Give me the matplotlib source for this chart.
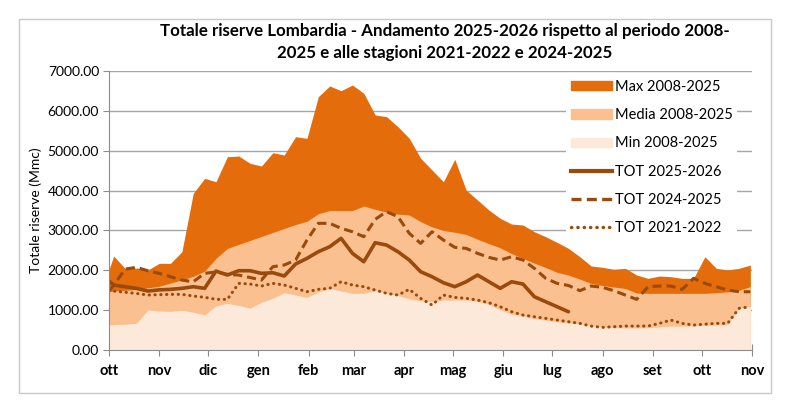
import numpy as np
import pandas as pd
import matplotlib
matplotlib.use('Agg')
import matplotlib.pyplot as plt
from matplotlib.patches import Patch, Rectangle
from matplotlib.lines import Line2D

plt.rcParams['font.family'] = ['Lato', 'DejaVu Sans']

# weekly dates (first point on 1 Oct, then weekly)
dates = [pd.Timestamp('2025-10-01')] + list(pd.date_range('2025-10-04', periods=57, freq='7D'))

max_0825 = [2007, 2358, 2050, 2057, 2007, 2175, 2175, 2467, 3930, 4307,
            4223, 4850, 4867, 4684, 4617, 4950, 4893, 5352, 5311, 6356,
            6624, 6506, 6649, 6440, 5896, 5854, 5603, 5311, 4810, 4516,
            4223, 4784, 4014, 3764, 3513, 3304, 3161, 3136, 2968, 2843,
            2700, 2551, 2341, 2108, 2075, 2025, 2050, 1882, 1799, 1857,
            1840, 1799, 1799, 2341, 2050, 2007, 2050, 2133]

media_0825 = [1463, 1480, 1500, 1520, 1560, 1600, 1680, 1760, 1850, 1980,
              2300, 2550, 2650, 2750, 2850, 2950, 3050, 3150, 3230, 3420,
              3500, 3500, 3500, 3613, 3530, 3460, 3410, 3387, 3220, 3090,
              3000, 2955, 2900, 2780, 2670, 2565, 2420, 2300, 2180, 2070,
              1950, 1880, 1780, 1670, 1620, 1580, 1545, 1430, 1423, 1423,
              1423, 1423, 1423, 1423, 1440, 1460, 1500, 1590]

min_0825 = [627, 640, 650, 669, 1004, 980, 970, 1000, 950, 880,
            1110, 1170, 1120, 1050, 1200, 1300, 1440, 1380, 1320, 1460,
            1548, 1480, 1423, 1423, 1490, 1420, 1370, 1280, 1240, 1212,
            1255, 1255, 1255, 1220, 1150, 1010, 900, 850, 790, 750,
            710, 680, 660, 620, 580, 560, 555, 555, 560, 580,
            600, 600, 610, 620, 630, 640, 1050, 1090]

tot_2526 = [1740, 1631, 1589, 1548, 1480, 1510, 1523, 1548, 1589, 1548,
            1982, 1882, 1990, 1990, 1924, 1940, 1857, 2158, 2300, 2467,
            2592, 2802, 2426, 2216, 2693, 2634, 2467, 2258, 1965, 1840,
            1689, 1589, 1714, 1882, 1714, 1548, 1714, 1656, 1338, 1212,
            1087, 962] + [np.nan] * 16

tot_2425 = [1480, 1620, 2030, 2075, 1990, 1924, 1840, 1756, 1714, 1924,
            1960, 1900, 1880, 1820, 1756, 2091, 2133, 2258, 2760, 3179,
            3179, 3054, 2968, 2843, 3279, 3471, 3345, 2928, 2676, 2968,
            2760, 2576, 2551, 2426, 2325, 2258, 2341, 2258, 2050, 1799,
            1673, 1620, 1490, 1606, 1573, 1488, 1380, 1272, 1589, 1606,
            1606, 1523, 1799, 1673, 1589, 1505, 1463, 1463]

tot_2122 = [1500, 1480, 1450, 1420, 1380, 1390, 1397, 1397, 1355, 1322,
            1272, 1272, 1673, 1656, 1606, 1673, 1631, 1548, 1463, 1523,
            1548, 1714, 1631, 1589, 1505, 1423, 1380, 1523, 1297, 1129,
            1380, 1322, 1297, 1255, 1187, 1087, 962, 878, 836, 795,
            753, 711, 669, 600, 569, 586, 602, 602, 602, 669,
            753, 669, 627, 650, 669, 669, 1046, 1087]

month_labels = ['ott', 'nov', 'dic', 'gen', 'feb', 'mar', 'apr', 'mag',
                'giu', 'lug', 'ago', 'set', 'ott', 'nov']
month_ticks = pd.date_range('2025-10-01', periods=14, freq='MS')

c_max = '#E46C0A'
c_media = '#FAC090'
c_min = '#FDE9D9'
c_line = '#9A4A0C'

fig = plt.figure(figsize=(8, 4.08), dpi=100)
fig.add_artist(Rectangle((0.024, 0.037), 0.94, 0.916, transform=fig.transFigure,
                         fill=False, edgecolor='#c8c8c8', linewidth=1))
ax = fig.add_axes([0.136, 0.142, 0.804, 0.684])

ax.fill_between(dates, max_0825, color=c_max, linewidth=0, zorder=2)
ax.fill_between(dates, media_0825, color=c_media, linewidth=0, zorder=3)
ax.fill_between(dates, min_0825, color=c_min, linewidth=0, zorder=4)

ax.plot(dates, tot_2526, color=c_line, linewidth=2.6, zorder=6, solid_capstyle='round')
ax.plot(dates, tot_2425, color=c_line, linewidth=2.2, linestyle=(0, (3, 1.6)), zorder=5)
ax.plot(dates, tot_2122, color=c_line, linewidth=2.2, linestyle=(0, (0.1, 1.8)),
        dash_capstyle='round', zorder=5)

ax.set_xlim(month_ticks[0], month_ticks[-1])
ax.set_ylim(0, 7000)
ax.set_yticks(np.arange(0, 7001, 1000))
ax.set_yticklabels(['%.2f' % v for v in np.arange(0, 7001, 1000)])
ax.set_xticks(month_ticks)
ax.set_xticklabels(month_labels, fontweight='bold')

ax.grid(axis='y', color='#a6a6a6', linewidth=1, zorder=1)
ax.set_axisbelow(True)
for s in ['top', 'right']:
    ax.spines[s].set_visible(False)
for s in ['left', 'bottom']:
    ax.spines[s].set_color('#8c8c8c')
    ax.spines[s].set_zorder(7)
ax.tick_params(axis='x', direction='inout', length=8, color='#8c8c8c', labelsize=10.5, pad=6)
ax.tick_params(axis='y', direction='out', length=4, color='#8c8c8c', labelsize=10, pad=3)
ax.set_ylabel('Totale riserve (Mmc)', fontsize=10)

fig.text(0.556, 0.925, 'Totale riserve Lombardia - Andamento 2025-2026 rispetto al periodo 2008-',
         ha='center', va='center', fontsize=12.2, fontweight='bold')
fig.text(0.556, 0.87, '2025 e alle stagioni 2021-2022 e 2024-2025',
         ha='center', va='center', fontsize=12.2, fontweight='bold')

handles = [Patch(color=c_max), Patch(color=c_media), Patch(color=c_min),
           Line2D([], [], color=c_line, linewidth=3),
           Line2D([], [], color=c_line, linewidth=2.4, linestyle=(0, (3, 1.6))),
           Line2D([], [], color=c_line, linewidth=2.4, linestyle=(0, (0.1, 1.8)),
                  dash_capstyle='round')]
labels = ['Max 2008-2025', 'Media 2008-2025', 'Min 2008-2025',
          'TOT 2025-2026', 'TOT 2024-2025', 'TOT 2021-2022']
leg = ax.legend(handles, labels, loc='upper left', bbox_to_anchor=(0.7, 1.01),
                frameon=True, framealpha=1, edgecolor='none', facecolor='white',
                fontsize=10.5, handlelength=2.85, handleheight=0.6, labelspacing=0.98,
                handletextpad=0.2, borderpad=0.3, fancybox=False)
leg.set_zorder(10)

fig.savefig('out.png', dpi=100)
